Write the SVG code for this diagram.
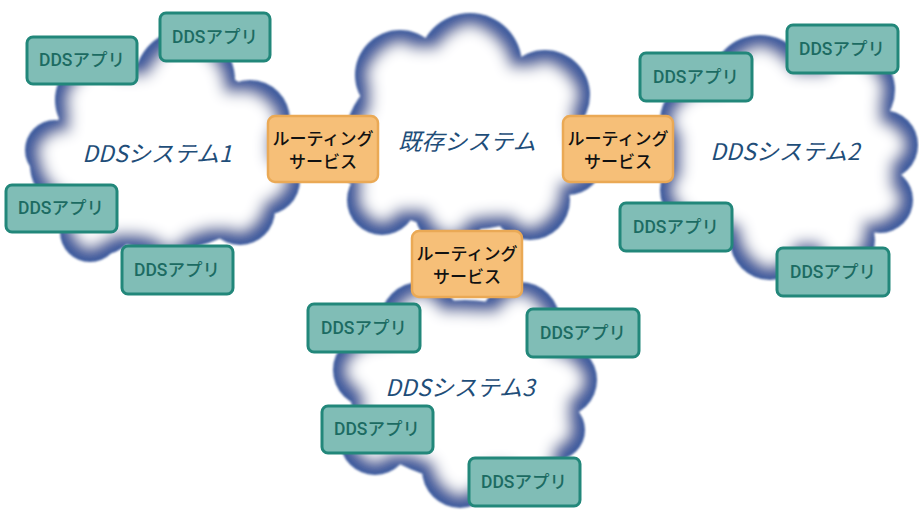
<svg xmlns="http://www.w3.org/2000/svg" width="919" height="511" viewBox="0 0 919 511">
<style>
.cl{fill:#000}
.app rect{fill:#80bdb6;stroke:#22877a;stroke-width:3}
.app text{font-family:"Roboto","Noto Sans CJK JP",sans-serif;font-size:17.5px;font-weight:500;fill:#1c6b62;text-anchor:middle;dominant-baseline:central}
.rt rect{fill:#f6bf78;stroke:#eaa955;stroke-width:2.5}
.rt text{font-family:"Noto Sans CJK JP","Noto Sans",sans-serif;font-size:17px;font-weight:500;fill:#111;text-anchor:middle;dominant-baseline:central}
.lbl{font-family:"Noto Sans CJK JP","Noto Sans",sans-serif;font-size:23px;font-style:italic;fill:#1f4e79;text-anchor:middle;dominant-baseline:central}
</style>
<defs>
<filter id="cloudf" x="-15%" y="-15%" width="130%" height="130%">
<feGaussianBlur in="SourceAlpha" stdDeviation="1.2" result="outer"/>
<feFlood flood-color="#3f5c9e" result="bc"/>
<feComposite in="bc" in2="outer" operator="in" result="blue"/>
<feMorphology in="SourceAlpha" operator="erode" radius="12" result="er"/>
<feGaussianBlur in="er" stdDeviation="7" result="inner"/>
<feFlood flood-color="#ffffff" result="wc"/>
<feComposite in="wc" in2="inner" operator="in" result="white"/>
<feMerge><feMergeNode in="blue"/><feMergeNode in="white"/></feMerge>
</filter>
</defs>
<rect width="919" height="511" fill="#fff"/>

<g id="cloud-existing">
<g filter="url(#cloudf)" class="cl">
<ellipse cx="465" cy="140" rx="120" ry="90"/>
<circle cx="400" cy="75" r="45"/>
<circle cx="470" cy="65" r="52"/>
<circle cx="545" cy="95" r="45"/>
<circle cx="372" cy="150" r="40"/>
<circle cx="382" cy="200" r="35"/>
<circle cx="450" cy="212" r="35"/>
<circle cx="530" cy="200" r="40"/>
<circle cx="568" cy="160" r="35"/>
</g>
<text class="lbl" x="467" y="140">既存システム</text>
</g>

<g id="cloud-sys1">
<g filter="url(#cloudf)" class="cl">
<ellipse cx="165" cy="155" rx="115" ry="95"/>
<circle cx="100" cy="100" r="45"/>
<circle cx="185" cy="80" r="50"/>
<circle cx="250" cy="120" r="40"/>
<circle cx="265" cy="180" r="35"/>
<circle cx="75" cy="165" r="45"/>
<circle cx="55" cy="150" r="30"/>
<circle cx="100" cy="215" r="40"/>
<circle cx="90" cy="232" r="30"/>
<circle cx="170" cy="225" r="35"/>
<circle cx="240" cy="210" r="35"/>
</g>
<text class="lbl" x="157" y="152">DDSシステム1</text>
</g>

<g id="cloud-sys2">
<g filter="url(#cloudf)" class="cl">
<ellipse cx="785" cy="155" rx="115" ry="95"/>
<circle cx="760" cy="85" r="50"/>
<circle cx="850" cy="90" r="45"/>
<circle cx="883" cy="145" r="35"/>
<circle cx="880" cy="200" r="33"/>
<circle cx="700" cy="120" r="40"/>
<circle cx="700" cy="190" r="40"/>
<circle cx="770" cy="240" r="40"/>
<circle cx="840" cy="240" r="35"/>
</g>
<text class="lbl" x="785" y="150">DDSシステム2</text>
</g>

<g id="cloud-sys3">
<g filter="url(#cloudf)" class="cl">
<ellipse cx="465" cy="390" rx="115" ry="90"/>
<circle cx="420" cy="322" r="40"/>
<circle cx="520" cy="322" r="40"/>
<circle cx="560" cy="380" r="37"/>
<circle cx="555" cy="430" r="30"/>
<circle cx="370" cy="370" r="37"/>
<circle cx="375" cy="440" r="35"/>
<circle cx="460" cy="470" r="38"/>
<circle cx="530" cy="460" r="35"/>
</g>
<text class="lbl" x="460" y="386">DDSシステム3</text>
</g>

<g id="connectors"></g>

<g id="router-1" class="rt"><rect x="268" y="116" width="110" height="66" rx="7"/><text x="323" y="137">ルーティング</text><text x="323" y="160">サービス</text></g>
<g id="router-2" class="rt"><rect x="563" y="116" width="110" height="66" rx="7"/><text x="618" y="137">ルーティング</text><text x="618" y="160">サービス</text></g>
<g id="router-3" class="rt"><rect x="412" y="231" width="110" height="66" rx="7"/><text x="467" y="252">ルーティング</text><text x="467" y="275">サービス</text></g>

<g id="app-1a" class="app"><rect x="27" y="37" width="110" height="47" rx="6"/><text x="82" y="60">DDSアプリ</text></g>
<g id="app-1b" class="app"><rect x="160" y="13" width="110" height="48" rx="6"/><text x="215" y="37">DDSアプリ</text></g>
<g id="app-1c" class="app"><rect x="6" y="185" width="111" height="47" rx="6"/><text x="61" y="208">DDSアプリ</text></g>
<g id="app-1d" class="app"><rect x="122" y="246" width="111" height="48" rx="6"/><text x="177" y="270">DDSアプリ</text></g>

<g id="app-2a" class="app"><rect x="640" y="53" width="112" height="48" rx="6"/><text x="696" y="77">DDSアプリ</text></g>
<g id="app-2b" class="app"><rect x="787" y="25" width="111" height="48" rx="6"/><text x="842" y="49">DDSアプリ</text></g>
<g id="app-2c" class="app"><rect x="620" y="203" width="112" height="48" rx="6"/><text x="676" y="227">DDSアプリ</text></g>
<g id="app-2d" class="app"><rect x="777" y="248" width="112" height="48" rx="6"/><text x="833" y="272">DDSアプリ</text></g>

<g id="app-3a" class="app"><rect x="308" y="304" width="112" height="48" rx="6"/><text x="364" y="328">DDSアプリ</text></g>
<g id="app-3b" class="app"><rect x="527" y="309" width="112" height="48" rx="6"/><text x="583" y="333">DDSアプリ</text></g>
<g id="app-3c" class="app"><rect x="322" y="406" width="111" height="47" rx="6"/><text x="377" y="429">DDSアプリ</text></g>
<g id="app-3d" class="app"><rect x="469" y="458" width="111" height="48" rx="6"/><text x="524" y="482">DDSアプリ</text></g>
</svg>
